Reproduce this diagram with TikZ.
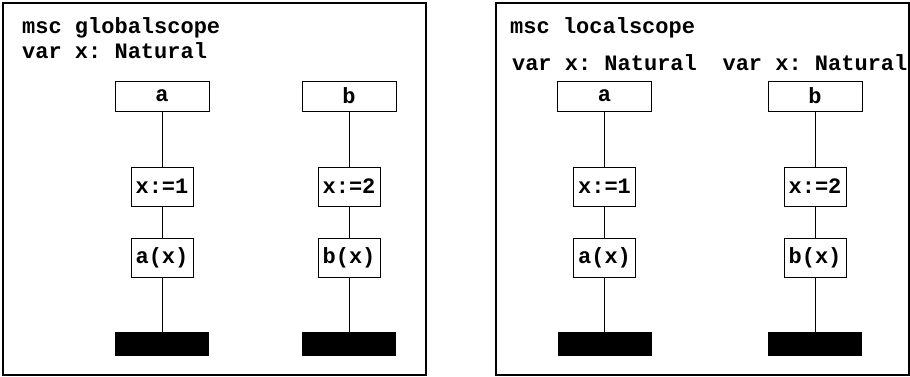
\documentclass[tikz,border=0pt]{standalone}
\usepackage{fontspec}
\setmonofont{Liberation Mono}
\usepackage{tikz}
\usetikzlibrary{positioning}
\tikzset{
	every node/.style={font=\fontsize{22}{26}\selectfont\ttfamily\bfseries, inner sep=0pt}, % Texto en mono negrita
	instancia/.style={draw, line width=1pt, minimum width=94pt, minimum height=30pt}, % Cabecera de la instancia
	accion/.style={draw, line width=1pt, minimum width=62pt, minimum height=39pt}, % Caja de accion
	fin/.style={fill=black, minimum width=94pt, minimum height=24pt}, % Fin de la instancia
	marco/.style={line width=1.2pt}, % Marco de cada msc
	eje/.style={line width=1pt} % Linea de vida
}

\begin{document}
\begin{tikzpicture}[x=1pt, y=-1pt]
			\useasboundingbox (0,0) rectangle (910,376);
			% msc globalscope
			\draw[marco] (3,3) rectangle (426,375);
			\node[anchor=base west] (gtit) at (22,33) {msc globalscope};
			\node[anchor=base west] (gvar) at (22,58) {var x: Natural};
			\node[instancia] (ga) at (162,96) {a};
			\node[instancia, right=92pt of ga] (gb) {b};
			\node[accion, below=55pt of ga] (gx1) {x:=1};
			\node[accion, below=31pt of gx1] (gax) {a(x)};
			\node[fin, below=54pt of gax] (gfa) {};
			\node[accion, below=55pt of gb] (gx2) {x:=2};
			\node[accion, below=31pt of gx2] (gbx) {b(x)};
			\node[fin, below=54pt of gbx] (gfb) {};
			\draw[eje] (ga) -- (gx1) -- (gax) -- (gfa)
					(gb) -- (gx2) -- (gbx) -- (gfb);
			% msc localscope
			\draw[marco] (496,3) rectangle (909,375);
			\node[anchor=base west] (ltit) at (510,33) {msc localscope};
			\node[instancia] (la) at (604.5,96) {a};
			\node[instancia, right=115.5pt of la] (lb) {b};
			\node[above=10pt of la] (lvara) {var x: Natural};
			\node[above=10pt of lb] (lvarb) {var x: Natural};
			\node[accion, below=55pt of la] (lx1) {x:=1};
			\node[accion, below=31pt of lx1] (lax) {a(x)};
			\node[fin, below=54pt of lax] (lfa) {};
			\node[accion, below=55pt of lb] (lx2) {x:=2};
			\node[accion, below=31pt of lx2] (lbx) {b(x)};
			\node[fin, below=54pt of lbx] (lfb) {};
			\draw[eje] (la) -- (lx1) -- (lax) -- (lfa)
					(lb) -- (lx2) -- (lbx) -- (lfb);
\end{tikzpicture}
\end{document}
